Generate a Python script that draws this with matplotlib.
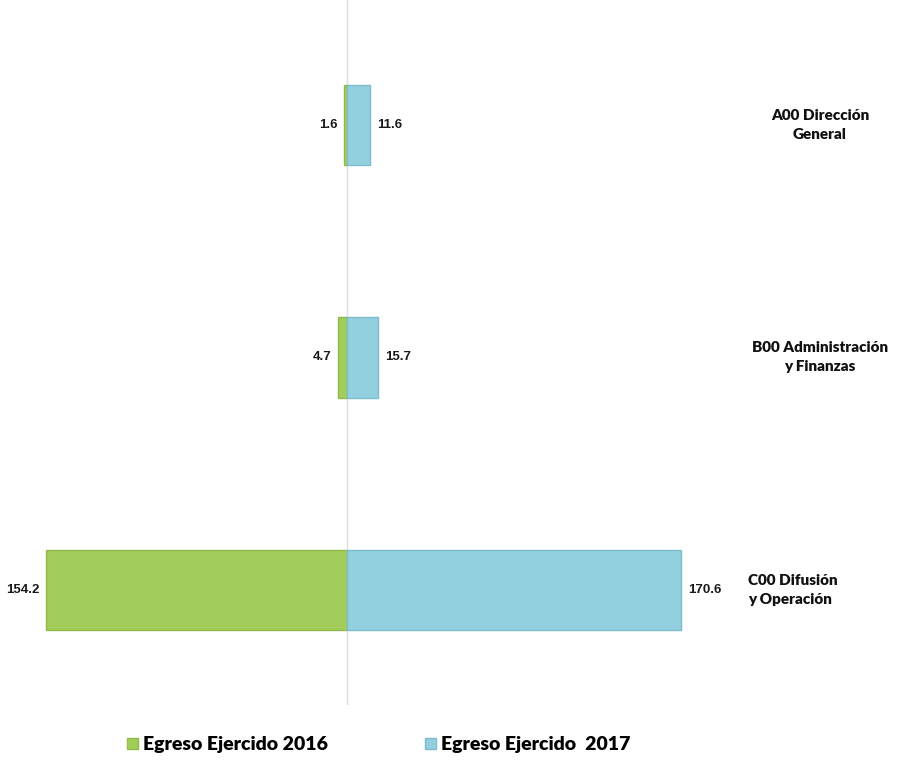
import matplotlib.pyplot as plt

# datos (millones de pesos)
categorias = ['A00 Dirección\nGeneral', 'B00 Administración\ny Finanzas', 'C00 Difusión\ny Operación']
egreso_2016 = [1.6, 4.7, 154.2]
egreso_2017 = [11.6, 15.7, 170.6]
series = ['Egreso Ejercido 2016', 'Egreso Ejercido  2017']

verde = '#a3cd5b'
azul = '#93d0df'
num_font = 'Liberation Sans'

fig = plt.figure(figsize=(9.02, 7.67), dpi=100)
ax = fig.add_axes([0, 0.081, 1, 0.919])

y = list(range(len(categorias)))
b1 = ax.barh(y, [-v for v in egreso_2016], height=0.345, color=verde,
             edgecolor='#8fbb4b', linewidth=1.0, label=series[0])
b2 = ax.barh(y, egreso_2017, height=0.345, color=azul,
             edgecolor='#7bbccd', linewidth=1.0, label=series[1])

ax.axvline(0, color='#dcdcdc', lw=1, zorder=0)

ax.set_xlim(-177.7, 283.6)
ax.set_ylim(2.495, -0.538)

# etiquetas de valores
for yi, v in zip(y, egreso_2016):
    ax.annotate(f'{v:.1f}', (-v, yi), xytext=(-5, 0), textcoords='offset points',
                ha='right', va='center', fontsize=9.5, fontweight='bold',
                family=num_font, color='#1a1a1a')
for yi, v in zip(y, egreso_2017):
    ax.annotate(f'{v:.1f}', (v, yi), xytext=(5, 0), textcoords='offset points',
                ha='left', va='center', fontsize=9.5, fontweight='bold',
                family=num_font, color='#1a1a1a')

# nombres de las unidades a la derecha
alineacion = ['center', 'center', 'left']
for yi, cat, al in zip(y, categorias, alineacion):
    xpos = 0.909 if al == 'center' else 0.829
    ax.text(xpos, yi, cat, transform=ax.get_yaxis_transform(), ha=al, va='center',
            multialignment=al, fontsize=11, fontweight='heavy', family='Lato',
            color='#111111', linespacing=1.55)

ax.axis('off')

fig.legend(handles=[b1, b2], labels=series, loc='center', bbox_to_anchor=(0.42, 0.029),
           ncol=2, frameon=False, handlelength=0.55, handleheight=0.55, handletextpad=0.25,
           columnspacing=5.0, prop={'family': 'Lato', 'weight': 'heavy', 'size': 14})

fig.savefig('out.png', dpi=100, facecolor='white')
